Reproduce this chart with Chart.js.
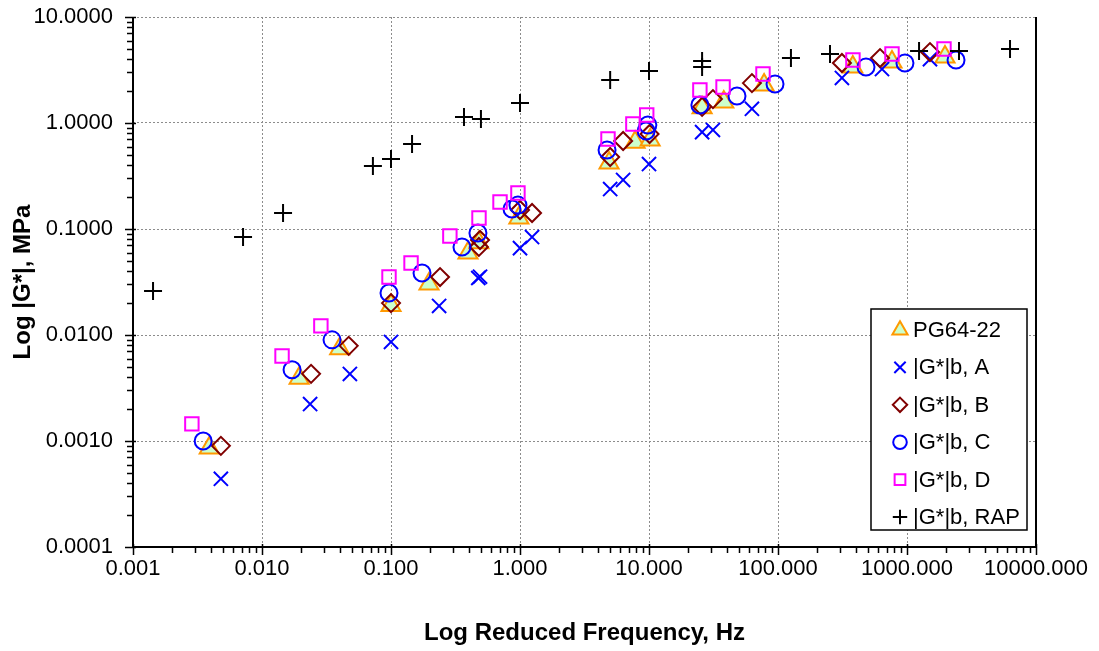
<!DOCTYPE html>
<html>
<head>
<meta charset="utf-8">
<title>Log |G*| vs reduced frequency</title>
<script src="https://cdn.jsdelivr.net/npm/chart.js"></script>
<style>
  html, body { margin: 0; padding: 0; background: #fff; }
  #wrap { width: 1099px; height: 651px; }
</style>
</head>
<body>
<div id="wrap"><canvas id="gstar" width="1099" height="651"></canvas></div>
<script>
// Dynamic modulus master curves (reduced frequency in Hz, |G*| in MPa)
const seriesNames = ['PG64-22', '|G*|b, A', '|G*|b, B', '|G*|b, C', '|G*|b, D', '|G*|b, RAP'];

const pgFreq = [0.0039, 0.0194, 0.040, 0.100, 0.197, 0.395, 0.48, 0.98, 4.9, 7.8, 10.2, 25.8, 38, 78, 380, 765, 1970];
const pgG    = [0.00086, 0.0039, 0.0074, 0.0190, 0.0303, 0.0594, 0.074, 0.127, 0.42, 0.66, 0.69, 1.39, 1.58, 2.28, 3.38, 3.76, 4.2];

const aFreq = [0.0048, 0.0236, 0.048, 0.100, 0.236, 0.475, 0.49, 1.0, 1.24, 5.0, 6.3, 10.0, 25.8, 31.3, 62.8, 313, 640, 1507];
const aG    = [0.00044, 0.00223, 0.00429, 0.0086, 0.0188, 0.0345, 0.0355, 0.066, 0.084, 0.238, 0.29, 0.41, 0.82, 0.86, 1.36, 2.66, 3.23, 4.0];

const bFreq = [0.0048, 0.024, 0.047, 0.100, 0.24, 0.48, 0.49, 1.0, 1.24, 5.0, 6.3, 10.1, 25.8, 31.3, 62.8, 313, 618, 1507];
const bG    = [0.0009, 0.0043, 0.0079, 0.020, 0.0352, 0.0677, 0.0787, 0.151, 0.1416, 0.478, 0.676, 0.787, 1.42, 1.68, 2.38, 3.68, 4.1, 4.67];

const cFreq = [0.0035, 0.0171, 0.0349, 0.0965, 0.174, 0.355, 0.472, 0.867, 0.964, 4.73, 9.5, 9.8, 24.8, 48.1, 94.8, 481, 964, 2399];
const cG    = [0.00100, 0.0047, 0.0090, 0.0249, 0.0385, 0.0677, 0.0917, 0.1545, 0.168, 0.556, 0.84, 0.957, 1.48, 1.80, 2.33, 3.38, 3.68, 3.93];

const dFreq = [0.00286, 0.0143, 0.0286, 0.0965, 0.143, 0.286, 0.481, 0.70, 0.964, 4.81, 7.5, 9.6, 24.8, 37.5, 76.5, 381, 765, 1935];
const dG    = [0.00145, 0.00634, 0.0122, 0.0352, 0.0478, 0.0859, 0.127, 0.18, 0.219, 0.706, 0.98, 1.19, 2.05, 2.19, 2.9, 3.93, 4.48, 4.99];

const rapFreq = [0.00143, 0.00713, 0.01456, 0.0724, 0.100, 0.1456, 0.368, 0.498, 1.0, 5.0, 10.0, 25.8, 25.8, 126, 253, 1240, 2530, 6290];
const rapG    = [0.026, 0.0841, 0.1416, 0.393, 0.457, 0.634, 1.14, 1.09, 1.545, 2.55, 3.09, 3.85, 3.38, 4.1, 4.48, 4.78, 4.78, 5.0];

// axis ranges (decades)
const xMin = 0.001, xMax = 10000;
const yMin = 0.0001, yMax = 10;

const FONT = "'Liberation Sans', Arial, sans-serif";
Chart.defaults.font.family = FONT;
Chart.defaults.color = '#000';

// marker styles per series
const markers = [
    { pointStyle: 'triangle', radius: 11,  fill: '#CCFFCC', stroke: '#FF9900' },
    { pointStyle: 'crossRot', radius: 10,  fill: '#0000FF', stroke: '#0000FF' },
    { pointStyle: 'rectRot',  radius: 9,   fill: 'rgba(0,0,0,0)', stroke: '#800000' },
    { pointStyle: 'circle',   radius: 8.5, fill: 'rgba(0,0,0,0)', stroke: '#0000FF' },
    { pointStyle: 'rect',     radius: 9.5, fill: 'rgba(0,0,0,0)', stroke: '#FF00FF' },
    { pointStyle: 'cross',    radius: 9,   fill: '#000', stroke: '#000' }
];

function toPoints(xs, ys) {
    return xs.map((x, i) => ({ x: x, y: ys[i] }));
}

const allData = [
    toPoints(pgFreq, pgG),
    toPoints(aFreq, aG),
    toPoints(bFreq, bG),
    toPoints(cFreq, cG),
    toPoints(dFreq, dG),
    toPoints(rapFreq, rapG)
];

// 1..9 x 10^n tick values across the range
function logTicks(min, max) {
    const out = [];
    for (let e = Math.round(Math.log10(min)); e <= Math.round(Math.log10(max)); e++) {
        for (let s = 1; s <= 9; s++) {
            const v = parseFloat((s * Math.pow(10, e)).toPrecision(6));
            if (v >= min * 0.999 && v <= max * 1.001) out.push({ value: v });
        }
    }
    return out;
}

function isDecade(v) {
    const l = Math.log10(v);
    return Math.abs(l - Math.round(l)) < 1e-6;
}

function decimals(v, n) {
    return v.toFixed(n);
}

// axis lines, tick marks and the boxed legend
const framePlugin = {
    id: 'frame',
    afterDraw(chart) {
        const { ctx, chartArea: a } = chart;
        const xs = chart.scales.x, ys = chart.scales.y;
        ctx.save();
        ctx.strokeStyle = '#000';
        ctx.lineWidth = 2;
        ctx.beginPath();
        ctx.moveTo(a.left, a.top);
        ctx.lineTo(a.left, a.bottom);
        ctx.lineTo(a.right, a.bottom);
        ctx.moveTo(a.right, a.top);
        ctx.lineTo(a.right, a.bottom);
        ctx.stroke();

        ctx.lineWidth = 1.5;
        ctx.beginPath();
        xs.ticks.forEach(t => {
            const px = Math.round(xs.getPixelForValue(t.value)) + 0.5;
            const major = isDecade(t.value);
            ctx.moveTo(px, a.bottom - (major ? 3 : 0));
            ctx.lineTo(px, a.bottom + (major ? 8 : 6));
        });
        ys.ticks.forEach(t => {
            const py = Math.round(ys.getPixelForValue(t.value)) + 0.5;
            const major = isDecade(t.value);
            ctx.moveTo(a.left - (major ? 8 : 6), py);
            ctx.lineTo(a.left + (major ? 3 : 0), py);
        });
        ctx.stroke();

        // legend
        const box = { x: 871, y: 309, w: 156, h: 221 };
        ctx.fillStyle = '#fff';
        ctx.fillRect(box.x, box.y, box.w, box.h);
        ctx.lineWidth = 1.5;
        ctx.strokeStyle = '#000';
        ctx.strokeRect(box.x, box.y, box.w, box.h);
        ctx.font = '22px ' + FONT;
        ctx.textBaseline = 'middle';
        ctx.textAlign = 'left';
        seriesNames.forEach((name, i) => {
            const cy = 330 + i * 37.4;
            drawMarker(ctx, markers[i], 900, cy, markers[i].radius * 0.8);
            ctx.fillStyle = '#000';
            ctx.fillText(name, 913, cy + 1);
        });
        ctx.restore();
    }
};

function drawMarker(ctx, m, x, y, r) {
    ctx.save();
    ctx.lineWidth = 2;
    ctx.strokeStyle = m.stroke;
    ctx.fillStyle = m.fill;
    ctx.beginPath();
    const h = r * Math.SQRT1_2;
    switch (m.pointStyle) {
        case 'triangle':
            ctx.moveTo(x, y - r);
            ctx.lineTo(x + r * 0.866, y + r / 2);
            ctx.lineTo(x - r * 0.866, y + r / 2);
            ctx.closePath();
            ctx.fill();
            break;
        case 'crossRot':
            ctx.moveTo(x - h, y - h); ctx.lineTo(x + h, y + h);
            ctx.moveTo(x + h, y - h); ctx.lineTo(x - h, y + h);
            break;
        case 'rectRot':
            ctx.moveTo(x, y - r); ctx.lineTo(x + r, y);
            ctx.lineTo(x, y + r); ctx.lineTo(x - r, y);
            ctx.closePath();
            break;
        case 'circle':
            ctx.arc(x, y, r, 0, Math.PI * 2);
            break;
        case 'rect':
            ctx.rect(x - h, y - h, 2 * h, 2 * h);
            break;
        case 'cross':
            ctx.moveTo(x, y - r); ctx.lineTo(x, y + r);
            ctx.moveTo(x - r, y); ctx.lineTo(x + r, y);
            break;
    }
    ctx.stroke();
    ctx.restore();
}

const datasets = allData.map((pts, i) => ({
    label: seriesNames[i],
    data: pts,
    pointStyle: markers[i].pointStyle,
    pointRadius: markers[i].radius,
    pointBackgroundColor: markers[i].fill,
    pointBorderColor: markers[i].stroke,
    pointBorderWidth: 2,
    showLine: false,
    order: seriesNames.length - i
}));

const gridColor = (c) => (c.tick && isDecade(c.tick.value)) ? '#8c8c8c' : 'rgba(0,0,0,0)';

new Chart(document.getElementById('gstar'), {
    type: 'scatter',
    data: { datasets: datasets },
    plugins: [framePlugin],
    options: {
        responsive: false,
        animation: false,
        events: [],
        layout: { padding: { left: 0, top: 17, right: 63, bottom: 0 } },
        plugins: {
            legend: { display: false },
            tooltip: { enabled: false }
        },
        scales: {
            x: {
                type: 'logarithmic',
                position: 'bottom',
                min: xMin,
                max: xMax,
                afterBuildTicks: (s) => { s.ticks = logTicks(xMin, xMax); },
                afterFit: (s) => {
                    s.height = 104;
                    s.paddingLeft = 0;
                    s.paddingRight = 0;
                },
                grid: { color: gridColor, lineWidth: 1, drawTicks: false },
                border: { display: false, dash: [2, 2] },
                ticks: {
                    autoSkip: false,
                    maxRotation: 0,
                    padding: 9,
                    font: { size: 22 },
                    callback: (v) => isDecade(v) ? decimals(v, 3) : ''
                },
                title: {
                    display: true,
                    text: 'Log Reduced Frequency, Hz',
                    font: { size: 24, weight: 'bold' },
                    padding: { top: 0, bottom: 3 }
                }
            },
            y: {
                type: 'logarithmic',
                min: yMin,
                max: yMax,
                afterBuildTicks: (s) => { s.ticks = logTicks(yMin, yMax); },
                afterFit: (s) => {
                    s.width = 133;
                    s.paddingTop = 0;
                    s.paddingBottom = 0;
                },
                grid: { color: gridColor, lineWidth: 1, drawTicks: false },
                border: { display: false, dash: [2, 2] },
                ticks: {
                    autoSkip: false,
                    padding: 20,
                    font: { size: 22 },
                    callback: (v) => isDecade(v) ? decimals(v, 4) : ''
                },
                title: {
                    display: true,
                    text: 'Log |G*|, MPa',
                    font: { size: 24, weight: 'bold' },
                    padding: { top: 9, bottom: 0 }
                }
            }
        }
    }
});
</script>
</body>
</html>
